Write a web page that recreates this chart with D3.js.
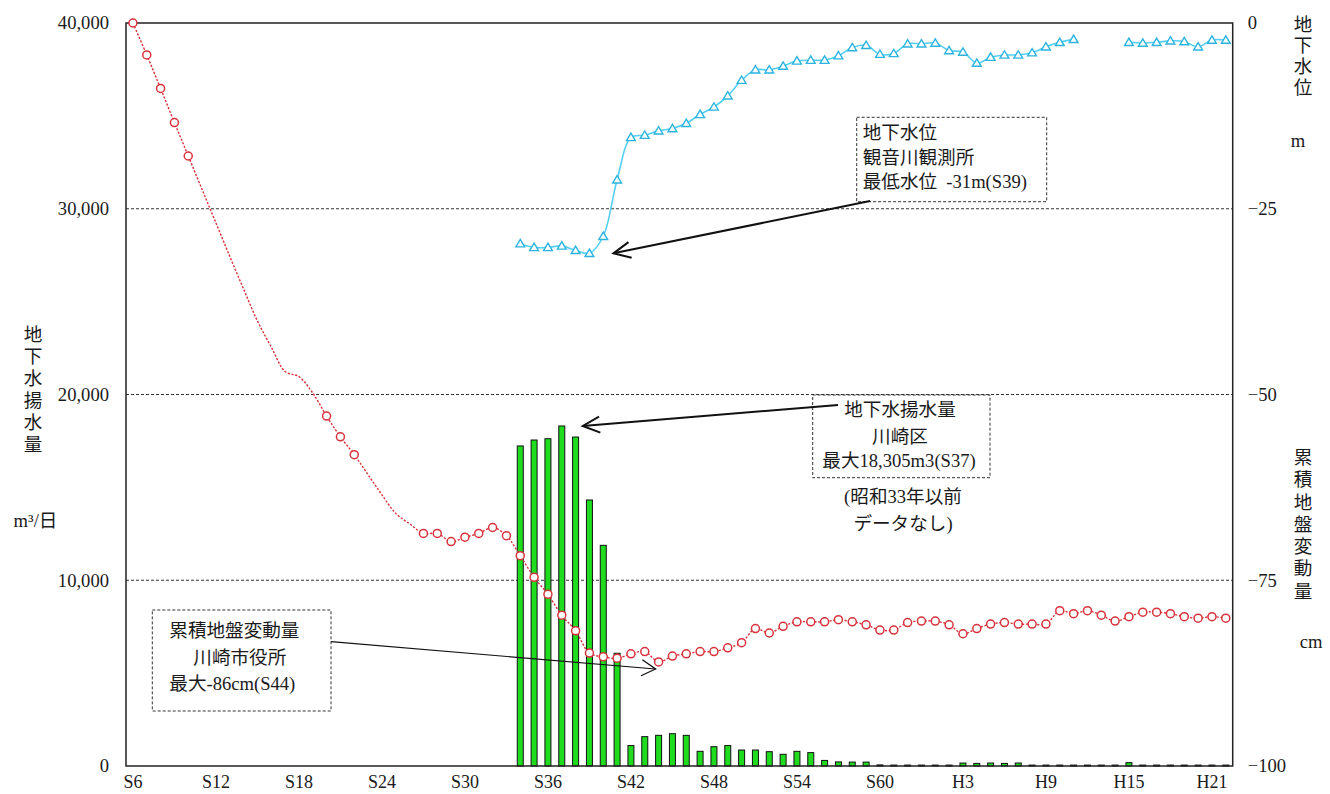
<!DOCTYPE html>
<html>
<head>
<meta charset="utf-8">
<script src="https://cdn.jsdelivr.net/npm/d3@7"></script>
<style>
  html, body { margin: 0; padding: 0; background: #fff; }
  svg { display: block; }
  .lbl { font-family: "Liberation Serif", "Noto Sans CJK JP", serif; font-size: 18.6px; fill: #1a1a1a; }
  .axis text { font-family: "Liberation Serif", "Noto Sans CJK JP", serif; font-size: 18.6px; fill: #1a1a1a; }
  .axis.bottom text { font-size: 18px; }
</style>
</head>
<body>
<svg id="chart" width="1330" height="794"></svg>
<script>
// 年（昭和・平成）
const eraYears = [
  "S6","S7","S8","S9","S10","S11","S12","S13","S14","S15",
  "S16","S17","S18","S19","S20","S21","S22","S23","S24","S25",
  "S26","S27","S28","S29","S30","S31","S32","S33","S34","S35",
  "S36","S37","S38","S39","S40","S41","S42","S43","S44","S45",
  "S46","S47","S48","S49","S50","S51","S52","S53","S54","S55",
  "S56","S57","S58","S59","S60","S61","S62","S63",
  "H1","H2","H3","H4","H5","H6","H7","H8","H9","H10",
  "H11","H12","H13","H14","H15","H16","H17","H18","H19","H20",
  "H21","H22"
];
const xTickLabels = ["S6","S12","S18","S24","S30","S36","S42","S48","S54","S60","H3","H9","H15","H21"];
const leftTicks = [0, 10000, 20000, 30000, 40000];
const rightTicks = [0, -25, -50, -75, -100];
const gridValues = [10000, 20000, 30000];

// 地下水揚水量（川崎区） m³/日  S34〜H22
const pumpingStart = "S34";
const pumping = [
  17230, 17550, 17620, 18305, 17710, 14320, 11880, 6070, 1100, 1580,
  1650, 1740, 1650, 790, 1040, 1100, 860, 860, 770, 630,
  790, 720, 300, 220, 210, 210, 60, 50, 50, 50,
  50, 50, 160, 140, 160, 140, 160, 50, 50, 50,
  50, 50, 50, 50, 180, 50, 50, 50, 50, 50,
  50, 50
];

// 地下水位（観音川観測所） m  S34〜H22
const levelStart = "S34";
const groundwaterLevel = [
  -29.7, -30.2, -30.2, -30.0, -30.6, -31.0, -28.7, -21.1, -15.4, -15.1,
  -14.5, -14.2, -13.5, -12.3, -11.3, -9.8, -7.7, -6.3, -6.3, -5.8,
  -5.1, -5.0, -5.0, -4.4, -3.3, -3.0, -4.2, -4.1, -2.8, -2.8,
  -2.7, -3.7, -3.9, -5.4, -4.6, -4.3, -4.3, -4.0, -3.2, -2.6,
  -2.2, null, null, null, -2.6, -2.7, -2.6, -2.4, -2.5, -3.2,
  -2.3, -2.3
];

// 累積地盤変動量（川崎市役所） cm  S6〜H22
const subsidence = [
  0, -4.3, -8.8, -13.4, -17.9, -22.4, -26.9, -31.4, -35.8, -40.1,
  -43.6, -46.9, -47.6, -49.8, -52.9, -55.7, -58.1, -60.8, -63.5, -66.0,
  -67.4, -68.7, -68.7, -69.8, -69.2, -68.7, -67.9, -69.0, -71.7, -74.6,
  -76.9, -79.7, -81.8, -84.8, -85.3, -85.5, -84.9, -84.6, -86.0, -85.2,
  -84.9, -84.6, -84.6, -84.1, -83.4, -81.5, -82.1, -81.2, -80.6, -80.6,
  -80.6, -80.3, -80.6, -81.0, -81.7, -81.7, -80.7, -80.5,
  -80.5, -81.0, -82.2, -81.5, -80.9, -80.7, -80.9, -80.9, -80.9, -79.1,
  -79.5, -79.1, -79.7, -80.5, -79.9, -79.3, -79.3, -79.5, -79.9, -80.1,
  -79.9, -80.1
];
// 測点記号を付けない年
const unmarkedYears = ["S11","S12","S13","S14","S15","S16","S17","S18","S19","S23","S24","S25","S26"];

const svg = d3.select("#chart");
const plot = { left: 126, top: 23, right: 1232.7, bottom: 766 };

const x = d3.scaleBand().domain(eraYears).range([plot.left, plot.right]).padding(0);
const cx = d => x(d) + x.bandwidth() / 2;
const yL = d3.scaleLinear().domain([0, 40000]).range([plot.bottom, plot.top]);
const yR = d3.scaleLinear().domain([-100, 0]).range([plot.bottom, plot.top]);

const offset = (start) => eraYears.indexOf(start);
const pumpData = pumping.map((v, i) => ({ year: eraYears[offset(pumpingStart) + i], v }));
const levelData = groundwaterLevel.map((v, i) => ({ year: eraYears[offset(levelStart) + i], v }));
const subData = subsidence.map((v, i) => ({ year: eraYears[i], v }));

// 補助線
svg.append("g").selectAll("line").data(gridValues).join("line")
  .attr("x1", plot.left).attr("x2", plot.right)
  .attr("y1", d => yL(d)).attr("y2", d => yL(d))
  .attr("stroke", "#333").attr("stroke-width", 1).attr("stroke-dasharray", "3,2");

// 揚水量の棒
svg.append("g").selectAll("rect").data(pumpData).join("rect")
  .attr("x", d => cx(d.year) - 3)
  .attr("y", d => yL(d.v))
  .attr("width", 6)
  .attr("height", d => yL(0) - yL(d.v))
  .attr("fill", "#1fdc1f").attr("stroke", "#111").attr("stroke-width", 1);

// 枠
svg.append("rect")
  .attr("x", plot.left).attr("y", plot.top)
  .attr("width", plot.right - plot.left).attr("height", plot.bottom - plot.top)
  .attr("fill", "none").attr("stroke", "#222").attr("stroke-width", 1.5);

// 軸
const axL = svg.append("g").attr("class", "axis").attr("transform", `translate(${plot.left},0)`)
  .call(d3.axisLeft(yL).tickValues(leftTicks).tickSize(0).tickPadding(17).tickFormat(d3.format(",")));
axL.select(".domain").remove();

const axR = svg.append("g").attr("class", "axis").attr("transform", `translate(${plot.right},0)`)
  .call(d3.axisRight(yR).tickValues(rightTicks).tickSize(0).tickPadding(15).tickFormat(d3.format("d")));
axR.select(".domain").remove();

const axB = svg.append("g").attr("class", "axis bottom").attr("transform", `translate(0,${plot.bottom})`)
  .call(d3.axisBottom(x).tickValues(xTickLabels).tickSize(0).tickPadding(9.5));
axB.select(".domain").remove();

// 累積地盤変動量の折れ線
const subLine = d3.line().x(d => cx(d.year)).y(d => yR(d.v)).curve(d3.curveCatmullRom.alpha(0.5));
svg.append("path").datum(subData).attr("d", subLine)
  .attr("fill", "none").attr("stroke", "#d8323c").attr("stroke-width", 1.4).attr("stroke-dasharray", "2.2,1.6");

// 地下水位の折れ線
const levelLine = d3.line().defined(d => d.v !== null).x(d => cx(d.year)).y(d => yR(d.v)).curve(d3.curveCatmullRom.alpha(0.5));
svg.append("path").datum(levelData).attr("d", levelLine)
  .attr("fill", "none").attr("stroke", "#55cff2").attr("stroke-width", 1.6);

svg.append("g").selectAll("circle").data(subData.filter(d => !unmarkedYears.includes(d.year))).join("circle")
  .attr("cx", d => cx(d.year)).attr("cy", d => yR(d.v)).attr("r", 4)
  .attr("fill", "#fff").attr("stroke", "#d8323c").attr("stroke-width", 1.5);

svg.append("g").selectAll("path").data(levelData.filter(d => d.v !== null)).join("path")
  .attr("transform", d => `translate(${cx(d.year)},${yR(d.v)})`)
  .attr("d", "M0,-4.2L4.4,3.2L-4.4,3.2Z")
  .attr("fill", "#fff").attr("stroke", "#2cb4df").attr("stroke-width", 1.4);

// 矢印
const defs = svg.append("defs");
function arrowHead(id, len, half, width) {
  defs.append("marker").attr("id", id)
    .attr("viewBox", `${-len - 3} ${-half - 3} ${len + 6} ${2 * half + 6}`)
    .attr("refX", 0).attr("refY", 0)
    .attr("markerWidth", len + 6).attr("markerHeight", 2 * half + 6)
    .attr("markerUnits", "userSpaceOnUse").attr("orient", "auto")
    .append("path").attr("d", `M${-len},${-half}L0,0L${-len},${half}`)
    .attr("fill", "none").attr("stroke", "#111").attr("stroke-width", width);
}
arrowHead("headThick", 17, 8, 2);
arrowHead("headThin", 14, 8, 1.3);

// 注記枠
const boxes = [
  { x: 856.7, y: 117.3, w: 190, h: 84.4 },
  { x: 812.7, y: 395, w: 177.3, h: 82.7 },
  { x: 152.3, y: 610, w: 178.7, h: 101 }
];
svg.append("g").selectAll("rect").data(boxes).join("rect")
  .attr("x", d => d.x).attr("y", d => d.y).attr("width", d => d.w).attr("height", d => d.h)
  .attr("fill", "#fff").attr("stroke", "#333").attr("stroke-width", 1).attr("stroke-dasharray", "3,2");

const arrows = [
  { x1: 870, y1: 201, year: "S39", dx: 24, dy: 0, axis: "R", v: -31, head: "headThick", w: 2 },
  { x1: 838, y1: 405, year: "S37", dx: 21, dy: 0, axis: "L", v: 18305, head: "headThick", w: 2 },
  { x1: 331, y1: 641.7, year: "S44", dx: -3, dy: 7, axis: "R", v: -86, head: "headThin", w: 1.2 }
];
svg.append("g").selectAll("line").data(arrows).join("line")
  .attr("x1", d => d.x1).attr("y1", d => d.y1)
  .attr("x2", d => cx(d.year) + d.dx)
  .attr("y2", d => (d.axis === "R" ? yR(d.v) : yL(d.v)) + d.dy)
  .attr("stroke", "#111").attr("stroke-width", d => d.w)
  .attr("marker-end", d => `url(#${d.head})`);

// 注記文字
const notes = [
  { x: 862.7, y: 132.5, anchor: "start", t: "地下水位" },
  { x: 862.7, y: 157, anchor: "start", t: "観音川観測所" },
  { x: 862.7, y: 181.5, anchor: "start", t: "最低水位\u00a0\u00a0-31m(S39)" },
  { x: 900, y: 409.5, anchor: "middle", t: "地下水揚水量" },
  { x: 900, y: 436, anchor: "middle", t: "川崎区" },
  { x: 899, y: 460, anchor: "middle", t: "最大18,305m3(S37)" },
  { x: 903, y: 496.5, anchor: "middle", t: "(昭和33年以前" },
  { x: 903, y: 523, anchor: "middle", t: "データなし)" },
  { x: 169.3, y: 630, anchor: "start", t: "累積地盤変動量" },
  { x: 193.3, y: 657.5, anchor: "start", t: "川崎市役所" },
  { x: 169.3, y: 683, anchor: "start", t: "最大-86cm(S44)" },
  { x: 35.5, y: 520, anchor: "middle", t: "m³/日" },
  { x: 1298, y: 140, anchor: "middle", t: "m" },
  { x: 1311, y: 641.7, anchor: "middle", t: "cm" }
];
svg.append("g").selectAll("text").data(notes).join("text")
  .attr("class", "lbl")
  .attr("x", d => d.x).attr("y", d => d.y)
  .attr("text-anchor", d => d.anchor)
  .attr("dominant-baseline", "central")
  .text(d => d.t);

// 縦書きの軸タイトル
const vTitles = [
  { x: 33, y: 334, step: 22, t: "地下水揚水量" },
  { x: 1303, y: 24, step: 21.3, t: "地下水位" },
  { x: 1303, y: 457.5, step: 22.25, t: "累積地盤変動量" }
];
vTitles.forEach(v => {
  svg.append("g").selectAll("text").data(Array.from(v.t)).join("text")
    .attr("class", "lbl")
    .attr("x", v.x).attr("y", (c, i) => v.y + i * v.step)
    .attr("text-anchor", "middle").attr("dominant-baseline", "central")
    .text(c => c);
});
</script>
</body>
</html>
